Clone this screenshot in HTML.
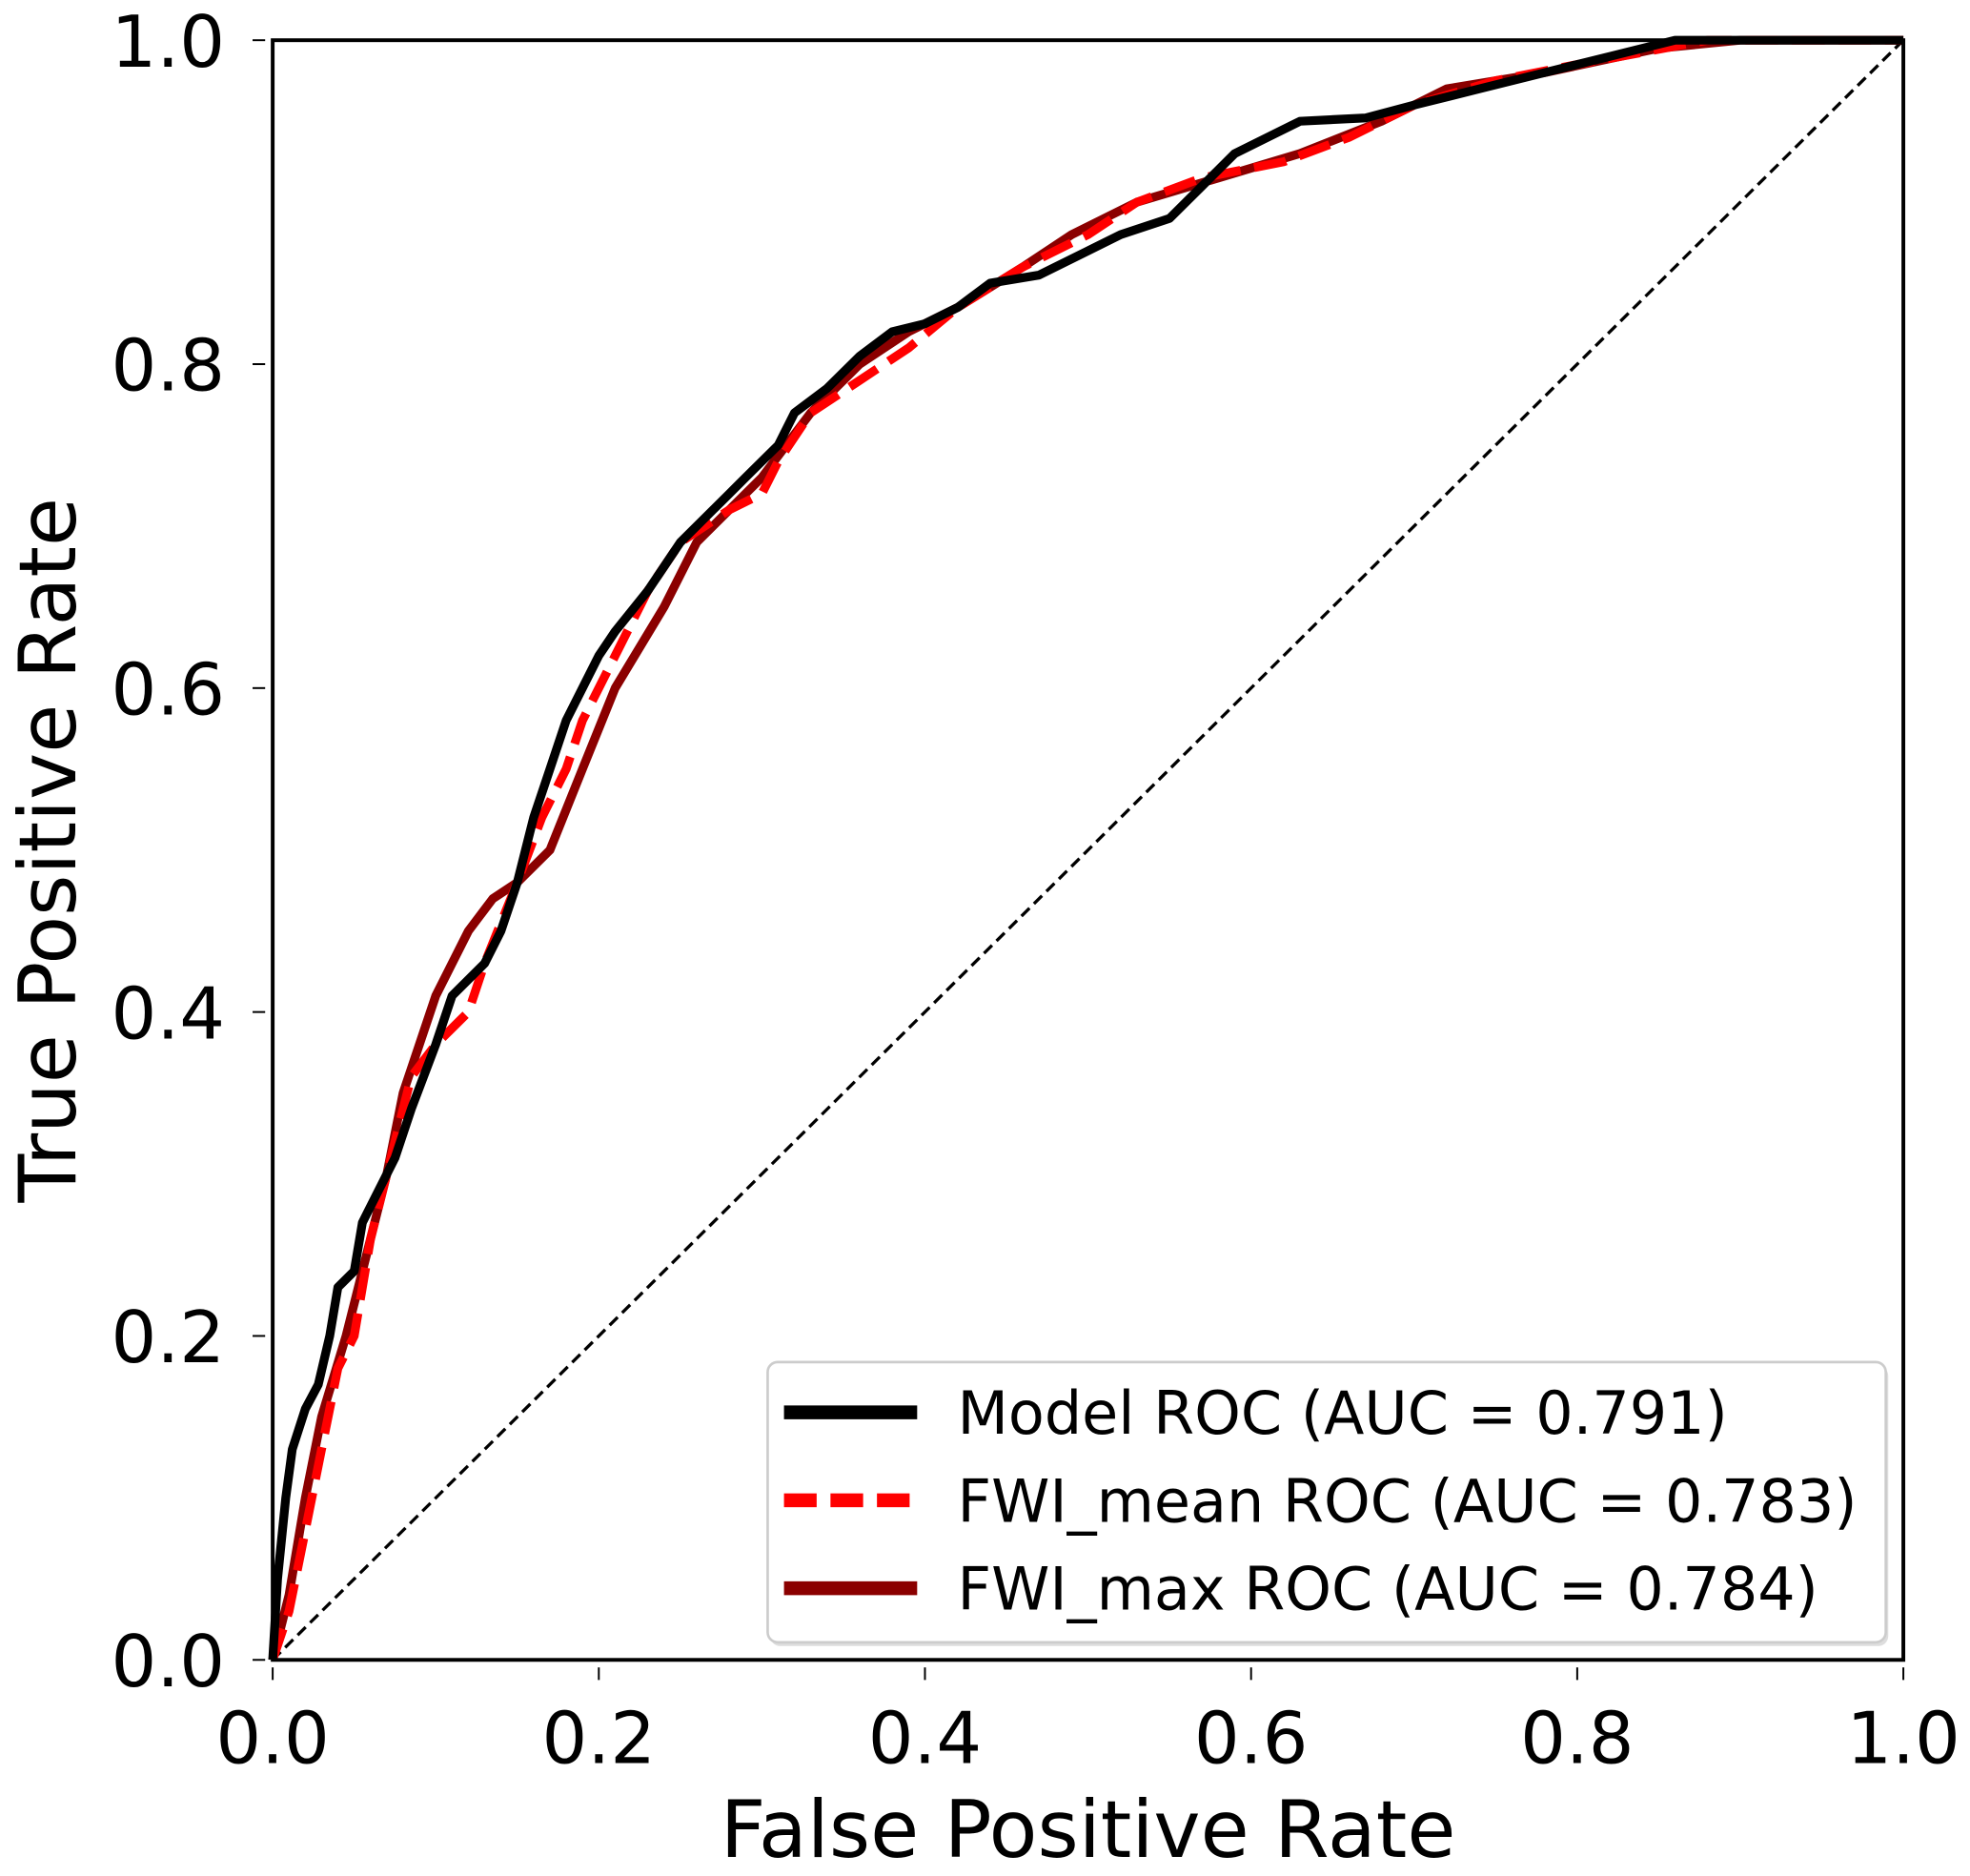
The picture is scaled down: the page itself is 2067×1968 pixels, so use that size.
<!DOCTYPE html>
<html><head><meta charset="utf-8"><style>
html,body{margin:0;padding:0;background:#fff}
svg{display:block}
text{font-family:"DejaVu Sans","Liberation Sans",sans-serif;fill:#000}
</style></head><body>
<svg id="chart" width="2067" height="1968" viewBox="0 0 1568 1493" xmlns="http://www.w3.org/2000/svg">
<g id="plot"></g>
</svg>
<script>
const ticks=[0,0.2,0.4,0.6,0.8,1.0];
const tickLabels=["0.0","0.2","0.4","0.6","0.8","1.0"];
const modelFpr=[0,0.003,0.008,0.012,0.02,0.028,0.035,0.04,0.05,0.055,0.065,0.075,0.085,0.1,0.11,0.13,0.14,0.15,0.16,0.17,0.18,0.19,0.2,0.21,0.23,0.25,0.27,0.29,0.31,0.32,0.34,0.36,0.38,0.4,0.42,0.44,0.47,0.5,0.52,0.55,0.57,0.59,0.61,0.63,0.67,0.7,0.74,0.78,0.82,0.86,1];
const modelTpr=[0,0.05,0.1,0.13,0.155,0.17,0.2,0.23,0.24,0.27,0.29,0.31,0.34,0.38,0.41,0.43,0.45,0.48,0.52,0.55,0.58,0.6,0.62,0.635,0.66,0.69,0.71,0.73,0.75,0.77,0.785,0.805,0.82,0.825,0.835,0.85,0.855,0.87,0.88,0.89,0.91,0.93,0.94,0.95,0.952,0.96,0.97,0.98,0.99,1.0,1];
const meanFpr=[0,0.01,0.02,0.03,0.04,0.05,0.06,0.07,0.08,0.085,0.1,0.12,0.13,0.15,0.165,0.18,0.19,0.21,0.23,0.25,0.28,0.3,0.31,0.33,0.36,0.39,0.42,0.46,0.5,0.53,0.57,0.62,0.66,0.7,0.75,0.8,0.88,1];
const meanTpr=[0,0.03,0.08,0.13,0.18,0.2,0.26,0.3,0.34,0.36,0.38,0.4,0.43,0.48,0.52,0.55,0.58,0.62,0.66,0.69,0.71,0.72,0.74,0.77,0.79,0.81,0.835,0.86,0.88,0.9,0.915,0.925,0.94,0.96,0.975,0.985,1.0,1];
const maxFpr=[0,0.01,0.02,0.03,0.045,0.06,0.07,0.08,0.09,0.1,0.12,0.135,0.15,0.17,0.19,0.21,0.24,0.26,0.28,0.3,0.33,0.36,0.39,0.42,0.46,0.49,0.53,0.58,0.63,0.68,0.72,0.78,0.85,0.9,1];
const maxTpr=[0,0.04,0.1,0.15,0.2,0.26,0.3,0.35,0.38,0.41,0.45,0.47,0.48,0.5,0.55,0.6,0.65,0.69,0.71,0.73,0.77,0.8,0.82,0.835,0.86,0.88,0.9,0.915,0.93,0.95,0.97,0.98,0.995,1,1];

const X0=217,X1=1515,Y0=1321,Y1=32;
const sx=v=>X0+v*(X1-X0);
const sy=v=>Y0-v*(Y0-Y1);
const NS="http://www.w3.org/2000/svg";
const g=document.getElementById('plot');
function mk(tag,attrs,parent){const e=document.createElementNS(NS,tag);for(const k in attrs)e.setAttribute(k,attrs[k]);(parent||g).appendChild(e);return e;}
function pts(xs,ys){return xs.map((x,i)=>sx(x).toFixed(1)+','+sy(ys[i]).toFixed(1)).join(' ');}

let d=mk('line',{x1:sx(0),y1:sy(0),x2:sx(1),y2:sy(1),stroke:'#000','stroke-width':2.5,'stroke-dasharray':'9,5'});



let l3=mk('polyline',{points:pts(maxFpr,maxTpr),fill:'none',stroke:'#8b0000','stroke-width':7,'stroke-linejoin':'round'});


let l2=mk('polyline',{points:pts(meanFpr,meanTpr),fill:'none',stroke:'#ff0000','stroke-width':7,'stroke-dasharray':'26,11'});


let l1=mk('polyline',{points:pts(modelFpr,modelTpr),fill:'none',stroke:'#000','stroke-width':7,'stroke-linejoin':'round'});



let fr=mk('rect',{x:X0,y:Y1,width:X1-X0,height:Y0-Y1,fill:'none',stroke:'#000','stroke-width':3});



ticks.forEach((t,i)=>{
  let a=mk('line',{x1:sx(t),y1:Y0+6,x2:sx(t),y2:Y0+16,stroke:'#000','stroke-width':1.5});
  
  
  let tx=mk('text',{x:sx(t),y:1403,'font-size':57,'text-anchor':'middle'});
  tx.textContent=tickLabels[i];
  
  
  let b=mk('line',{x1:X0-16,y1:sy(t),x2:X0-6,y2:sy(t),stroke:'#000','stroke-width':1.5});
  
  
  let ty=mk('text',{x:X0-38,y:sy(t)+21,'font-size':57,'text-anchor':'end'});
  ty.textContent=tickLabels[i];
  
  
});
let xt=mk('text',{x:(X0+X1)/2,y:1478,'font-size':63,'text-anchor':'middle'});
xt.textContent='False Positive Rate';


let yt=mk('text',{x:0,y:0,'font-size':63,'text-anchor':'middle',transform:'translate(60,'+((Y0+Y1)/2)+') rotate(-90)'});
yt.textContent='True Positive Rate';



const lg=mk('g',{});


mk('rect',{x:613,y:1087,width:890,height:223,rx:8,fill:'#ddd'},lg);
mk('rect',{x:611,y:1084,width:890,height:223,rx:8,fill:'#fff',stroke:'#ccc','stroke-width':2},lg);
const legNames=['Model ROC (AUC = 0.791)','FWI_mean ROC (AUC = 0.783)','FWI_max ROC (AUC = 0.784)'];
const legCol=['#000','#ff0000','#8b0000'];
const legDash=['none','26,11','none'];
legNames.forEach((n,i)=>{
  const y=1124+i*70;
  let ln=mk('line',{x1:624,y1:y,x2:730,y2:y,stroke:legCol[i],'stroke-width':11,'stroke-dasharray':legDash[i]},lg);
  
  
  let t=mk('text',{x:762,y:y+17,'font-size':47},lg);
  t.textContent=n;
  
  
});
</script>
</body></html>
